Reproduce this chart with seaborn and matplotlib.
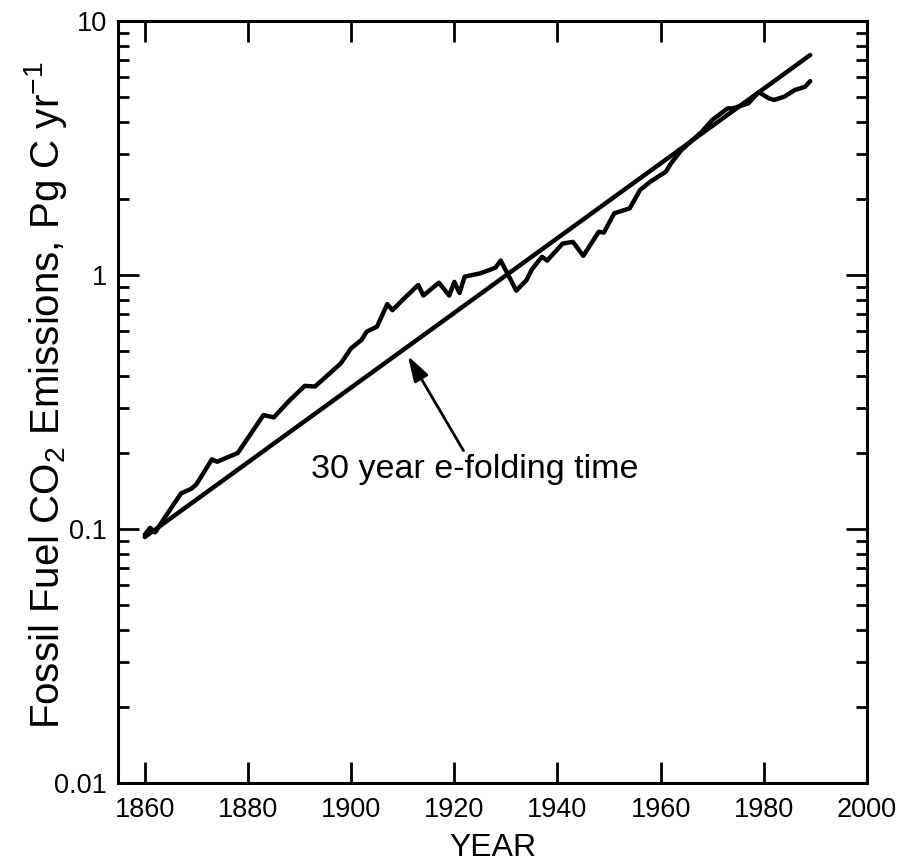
import numpy as np
import pandas as pd
import matplotlib
matplotlib.use('Agg')
import matplotlib.pyplot as plt
import matplotlib.ticker as mticker
import seaborn as sns

# Emissions (Pg C / yr)
years = [1860, 1861, 1862, 1864, 1867, 1869, 1870, 1873, 1874, 1878, 1883, 1885,
         1888, 1891, 1893, 1898, 1900, 1902, 1903, 1905, 1907, 1908, 1910, 1913,
         1914, 1917, 1919, 1920, 1921, 1922, 1925, 1927, 1928, 1929, 1932, 1934,
         1935, 1937, 1938, 1941, 1943, 1945, 1948, 1949, 1951, 1954, 1956, 1958,
         1961, 1962, 1964, 1968, 1970, 1973, 1974, 1977, 1979, 1981, 1982, 1984,
         1986, 1988, 1989]
emissions = [0.095, 0.101, 0.097, 0.112, 0.138, 0.144, 0.150, 0.188, 0.184, 0.199, 0.281, 0.275,
             0.320, 0.366, 0.364, 0.449, 0.515, 0.555, 0.598, 0.626, 0.768, 0.727, 0.799, 0.914,
             0.830, 0.933, 0.830, 0.940, 0.850, 0.985, 1.015, 1.05, 1.07, 1.14, 0.868, 0.955,
             1.05, 1.18, 1.14, 1.33, 1.35, 1.19, 1.48, 1.47, 1.75, 1.83, 2.16, 2.33,
             2.55, 2.75, 3.10, 3.67, 4.08, 4.53, 4.53, 4.74, 5.25, 4.96, 4.89, 5.04,
             5.35, 5.51, 5.80]

# 30 year e-folding line (end points)
efold_years = [1860, 1989]
efold_values = [0.093, 7.35]

ytick_vals = [0.01, 0.1, 1, 10]
ytick_labels = ['0.01', '0.1', '1', '10']
xtick_vals = [1860, 1880, 1900, 1920, 1940, 1960, 1980, 2000]

sns.set_style('ticks')
plt.rcParams['font.family'] = ['Liberation Sans', 'DejaVu Sans']
plt.rcParams['mathtext.fontset'] = 'custom'
plt.rcParams['mathtext.rm'] = 'Liberation Sans'
plt.rcParams['mathtext.it'] = 'Liberation Sans'
plt.rcParams['text.color'] = 'black'
plt.rcParams['axes.labelcolor'] = 'black'

fig = plt.figure(figsize=(9.03, 8.65), dpi=100)
ax = fig.add_axes([0.1307, 0.0948, 0.8294, 0.8809])

sns.lineplot(x=years, y=emissions, ax=ax, color='black', lw=3.2, estimator=None)
sns.lineplot(x=efold_years, y=efold_values, ax=ax, color='black', lw=3.2, estimator=None)

ax.set_yscale('log')
ax.set_xlim(1854.8, 2000)
ax.set_ylim(0.01, 10)
ax.set_xticks(xtick_vals)
ax.xaxis.set_minor_locator(mticker.NullLocator())
ax.yaxis.set_major_locator(mticker.FixedLocator(ytick_vals))
ax.yaxis.set_major_formatter(mticker.FixedFormatter(ytick_labels))
ax.yaxis.set_minor_locator(mticker.LogLocator(base=10, subs=np.arange(2, 10)))
ax.yaxis.set_minor_formatter(mticker.NullFormatter())

ax.tick_params(which='both', direction='in', top=True, right=True, colors='black',
               labelcolor='black', labelsize=19.5)
ax.tick_params(axis='x', pad=10)
ax.tick_params(axis='y', pad=8)
ax.tick_params(which='major', length=15, width=2)
ax.tick_params(which='minor', length=8, width=2)
for sp in ax.spines.values():
    sp.set_linewidth(2.2)
    sp.set_color('black')

ax.set_xlabel('YEAR', fontsize=23, labelpad=7)
ax.set_ylabel(r'Fossil Fuel CO$_2$ Emissions, Pg C yr$^{-1}$', fontsize=29)
ax.yaxis.set_label_coords(-0.066, 0.509)

ax.annotate('30 year e-folding time', xy=(1911.0, 0.48), xytext=(1892.3, 0.159),
            fontsize=24.5, ha='left', va='baseline',
            arrowprops=dict(arrowstyle='-|>,head_length=0.7,head_width=0.22',
                            color='black', lw=2, mutation_scale=22,
                            shrinkA=0, shrinkB=0,
                            relpos=(0.47, 1.0)))

fig.savefig('out.png', dpi=100)
